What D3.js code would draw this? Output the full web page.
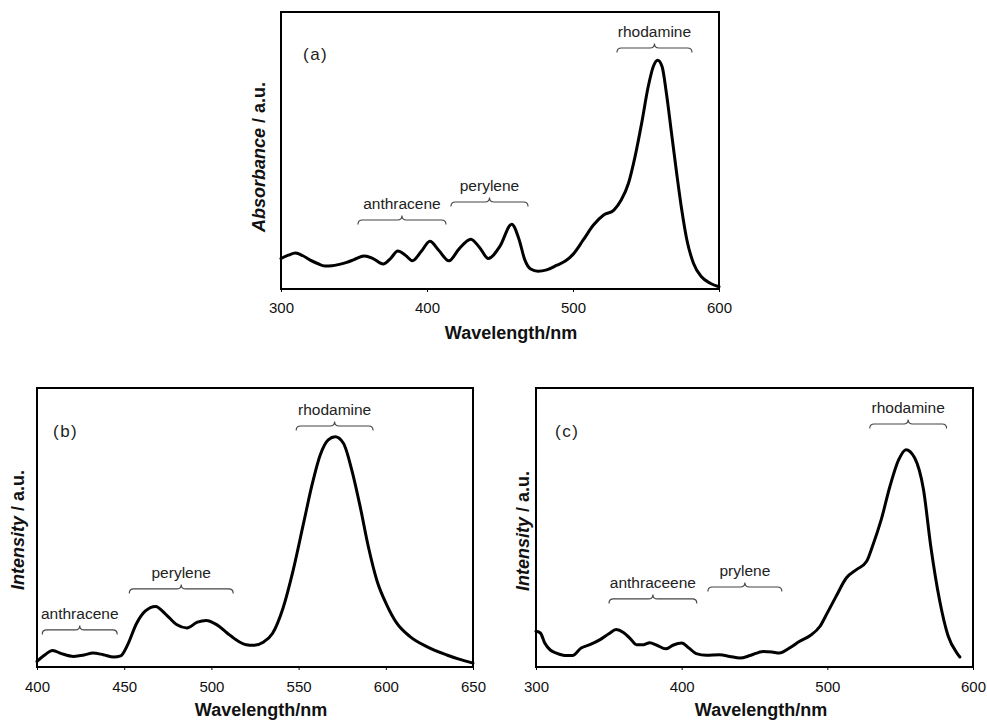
<!DOCTYPE html>
<html>
<head>
<meta charset="utf-8">
<script src="https://cdn.jsdelivr.net/npm/d3@7"></script>
<style>
  html, body { margin: 0; padding: 0; background: #fff; }
  svg { display: block; }
  text { font-family: "Liberation Sans", Arial, Helvetica, sans-serif; }
</style>
</head>
<body>
<svg id="chart" width="987" height="721"></svg>
<script>
// ---------- DATA ----------
// Panel (a): absorbance
const wavelengthA = [300,305,310,315,320,325,330,335,340,345,350,357,363,370,375,380,385,390,396,402,408,415,422,430,436,442,450,458,463,467,471,476,482,489,495,500,507,514,521,528,533,538,542.5,547,551.5,555,558,561,564,567.5,571,574.5,578,582.5,588,594,600];
const absorbanceA = [11.0,12.2,13.0,12.0,10.4,9.2,8.3,8.4,8.9,9.6,10.6,11.9,11.0,9.0,11.0,13.7,12.3,10.2,13.5,17.2,14.0,10.2,14.5,18.0,15.0,11.0,15.5,23.4,18.0,10.5,7.2,6.4,6.9,8.6,10.2,12.5,17.7,23.1,26.7,28.5,32.1,38.2,47.8,59.8,73.0,80.3,82.6,80.3,70.6,56.2,41.8,28.5,17.7,9.3,4.4,2.1,0.8];

// Panel (b): emission intensity
const wavelengthB = [400,404,409,414,421,427,432,438,444,448,452,457,462,468,474,480,486,492,497,503,509,515,520,524,530,535,541,547,553,557.6,562.4,567,571,575.7,580.5,585.3,590,594.8,600.6,606.3,613.9,623.5,635,642,650];
const intensityB = [2.0,4.1,5.9,4.8,3.8,4.3,5.0,4.4,3.6,4.0,8.0,15.5,20.0,21.7,18.8,15.2,14.0,16.1,16.7,15.2,12.2,9.4,8.0,7.8,9.0,12.0,21.0,35.0,52.0,65.0,76.0,81.4,82.5,80.2,70.6,57.5,43.1,31.2,22.2,15.7,10.9,7.3,4.3,2.8,1.4];

// Panel (c): excitation intensity
const wavelengthC = [300,303,306,310,314,321,325,331,337,344,350,355,360,365,369,374,378,383,389,394,400,405,410,417,426,433,440,447,456,462,467,474,481,488,495,500,506,513,520,527,531,537,543,549,554,560,566,571,577,583,589,591];
const intensityC = [12.8,12.2,8.6,6.0,5.0,4.1,4.1,6.8,8.0,9.8,11.9,13.4,12.4,10.0,8.0,8.0,8.7,7.8,6.5,7.8,8.6,6.8,4.8,4.2,4.4,3.8,3.2,4.1,5.6,5.4,5.0,6.8,9.2,11.2,14.6,19.4,25.3,31.9,34.9,37.9,43.3,52.8,64.8,74.3,77.9,74.9,63.6,43.3,24.1,11.0,5.0,3.6];

// Tick labels
const ticksA = [300, 400, 500, 600];
const ticksB = [400, 450, 500, 550, 600, 650];
const ticksC = [300, 400, 500, 600];

// Annotations (label, start nm, end nm, level in a.u.)
const annLabelsA = ["anthracene", "perylene", "rhodamine"];
const annStartA  = [352.7, 416.4, 530.1];
const annEndA    = [413.0, 469.2, 581.5];
const annLevelA  = [24.9, 31.4, 87.0];

const annLabelsB = ["anthracene", "perylene", "rhodamine"];
const annStartB  = [403.0, 452.9, 548.6];
const annEndB    = [446.0, 512.5, 592.7];
const annLevelB  = [13.3, 28.0, 86.4];

const annLabelsC = ["anthraceene", "prylene", "rhodamine"];
const annStartC  = [350.1, 418.0, 529.1];
const annEndC    = [410.4, 468.8, 581.9];
const annLevelC  = [24.4, 28.7, 87.1];

// ---------- DRAWING ----------
const svg = d3.select("#chart");

const panels = [
  { tag: "(a)", tagX: 303, tagY: 60, x: wavelengthA, y: absorbanceA, xDomain: [300, 600], ticks: ticksA,
    box: { left: 281, right: 719, top: 12, bottom: 289 },
    ylab: "Absorbance", ylabX: 265, ylabY: 157, xlabX: 511, xlabY: 339, tickPad: 10,
    ann: [annLabelsA, annStartA, annEndA, annLevelA] },
  { tag: "(b)", tagX: 53, tagY: 437, x: wavelengthB, y: intensityB, xDomain: [400, 650], ticks: ticksB,
    box: { left: 37, right: 473, top: 388, bottom: 667 },
    ylab: "Intensity", ylabX: 24, ylabY: 530, xlabX: 261, xlabY: 716, tickPad: 11,
    ann: [annLabelsB, annStartB, annEndB, annLevelB] },
  { tag: "(c)", tagX: 555, tagY: 437, x: wavelengthC, y: intensityC, xDomain: [300, 600], ticks: ticksC,
    box: { left: 536, right: 973, top: 388, bottom: 667 },
    ylab: "Intensity", ylabX: 529, ylabY: 531, xlabX: 761, xlabY: 716, tickPad: 11,
    ann: [annLabelsC, annStartC, annEndC, annLevelC] }
];

function bracePath(x1, x2, y, h) {
  const xm = (x1 + x2) / 2;
  return `M${x1},${y + h} Q${x1},${y} ${x1 + h},${y} L${xm - h},${y} Q${xm},${y} ${xm},${y - h}` +
         ` Q${xm},${y} ${xm + h},${y} L${x2 - h},${y} Q${x2},${y} ${x2},${y + h}`;
}

panels.forEach(p => {
  const b = p.box;
  const xs = d3.scaleLinear().domain(p.xDomain).range([b.left, b.right]);
  const ys = d3.scaleLinear().domain([0, 100]).range([b.bottom, b.top]);
  const g = svg.append("g");

  // x axis
  const ax = g.append("g")
    .attr("transform", `translate(0,${b.bottom})`)
    .call(d3.axisBottom(xs).tickValues(p.ticks).tickFormat(d3.format("d"))
      .tickSize(3).tickSizeOuter(0).tickPadding(p.tickPad));
  ax.select(".domain").remove();
  ax.selectAll(".tick line").attr("stroke", "#000").attr("stroke-width", 1);
  ax.selectAll(".tick text").attr("font-size", 15).attr("fill", "#111")
    .attr("font-family", "'Liberation Sans', Arial, sans-serif");

  // curve
  const pts = p.x.map((v, i) => [v, p.y[i]]);
  g.append("path")
    .datum(pts)
    .attr("fill", "none")
    .attr("stroke", "#000")
    .attr("stroke-width", 3)
    .attr("stroke-linejoin", "round")
    .attr("stroke-linecap", "round")
    .attr("d", d3.line().x(d => xs(d[0])).y(d => ys(d[1])).curve(d3.curveMonotoneX));

  // frame
  g.append("rect")
    .attr("x", b.left).attr("y", b.top)
    .attr("width", b.right - b.left).attr("height", b.bottom - b.top)
    .attr("fill", "none").attr("stroke", "#000").attr("stroke-width", 2);

  // panel tag
  g.append("text")
    .attr("x", p.tagX).attr("y", p.tagY)
    .attr("font-size", 17).attr("letter-spacing", 1.5).attr("fill", "#222")
    .text(p.tag);

  // annotations
  const [labs, st, en, lv] = p.ann;
  labs.forEach((lab, i) => {
    const x1 = xs(st[i]), x2 = xs(en[i]), y = ys(lv[i]);
    g.append("path")
      .attr("d", bracePath(x1, x2, y, 4.5))
      .attr("fill", "none").attr("stroke", "#444").attr("stroke-width", 1.1);
    g.append("text")
      .attr("x", (x1 + x2) / 2).attr("y", y - 11)
      .attr("text-anchor", "middle").attr("font-size", 15.5).attr("fill", "#222")
      .text(lab);
  });

  // x label
  g.append("text")
    .attr("x", p.xlabX).attr("y", p.xlabY)
    .attr("text-anchor", "middle").attr("font-size", 18).attr("font-weight", "bold")
    .attr("fill", "#111")
    .text("Wavelength/nm");

  // y label
  const yl = g.append("text")
    .attr("transform", `translate(${p.ylabX},${p.ylabY}) rotate(-90)`)
    .attr("text-anchor", "middle").attr("font-size", 18).attr("font-weight", "bold")
    .attr("fill", "#111");
  yl.append("tspan").attr("font-style", "italic").text(p.ylab);
  yl.append("tspan").text(" / a.u.");
});
</script>
</body>
</html>
